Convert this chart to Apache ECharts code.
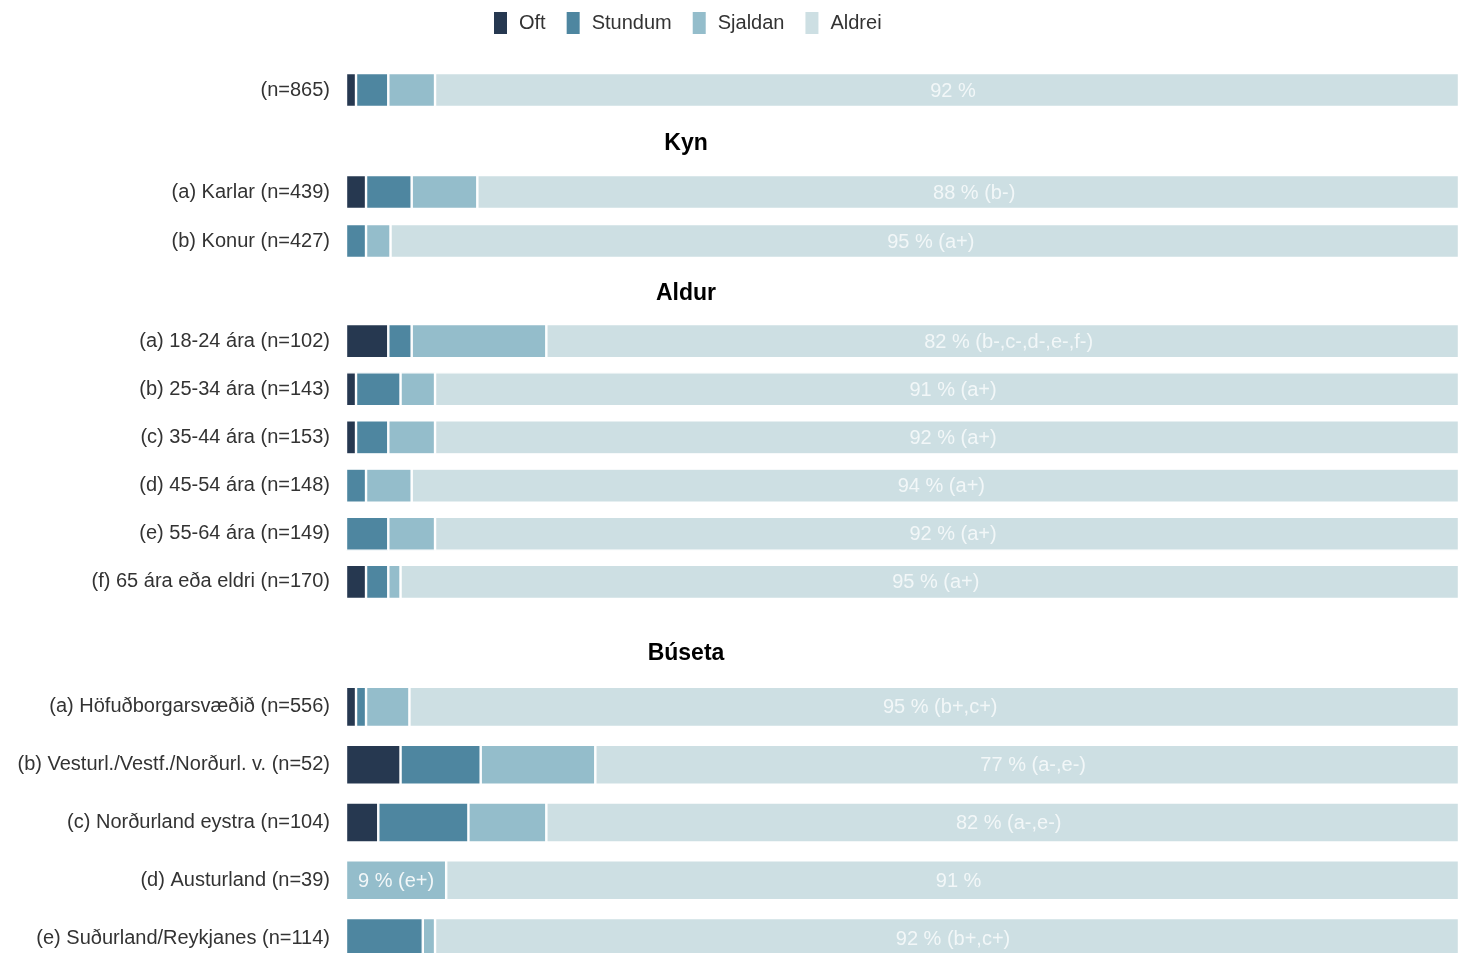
<!DOCTYPE html>
<html>
<head>
<meta charset="utf-8">
<script src="https://cdn.jsdelivr.net/npm/echarts@6/dist/echarts.min.js"></script>
<style>
html,body{margin:0;padding:0;background:#fff;overflow:hidden;}
#chart{width:1459px;height:1000px;}
</style>
</head>
<body>
<div id="chart"></div>
<script>
// ---- data ----
const seriesNames = ['Oft', 'Stundum', 'Sjaldan', 'Aldrei'];
const sectionTitles = ['', 'Kyn', 'Aldur', 'Búseta'];
const sectionCounts = [1, 2, 6, 5];
const categories = [
  '(n=865)',
  '(a) Karlar (n=439)', '(b) Konur (n=427)',
  '(a) 18-24 ára (n=102)', '(b) 25-34 ára (n=143)', '(c) 35-44 ára (n=153)',
  '(d) 45-54 ára (n=148)', '(e) 55-64 ára (n=149)', '(f) 65 ára eða eldri (n=170)',
  '(a) Höfuðborgarsvæðið (n=556)', '(b) Vesturl./Vestf./Norðurl. v. (n=52)',
  '(c) Norðurland eystra (n=104)', '(d) Austurland (n=39)', '(e) Suðurland/Reykjanes (n=114)'
];
const oft     = [0.9, 1.8, 0,   3.8, 0.9, 0.9, 0,   0,   1.8, 0.9, 4.9, 2.9, 0,   0];
const stundum = [2.9, 4.1, 1.8, 2.1, 4.0, 2.9, 1.8, 3.8, 2.0, 0.9, 7.2, 8.1, 0,   6.9];
const sjaldan = [4.2, 5.9, 2.2, 12.1, 3.1, 4.2, 4.1, 4.2, 1.1, 3.9, 10.3, 7.0, 9.0, 1.1];
const aldrei  = [92.0, 88.2, 96.0, 82.0, 92.0, 92.0, 94.1, 92.0, 95.1, 94.3, 77.6, 82.0, 91.0, 92.0];
const sjaldanLabels = ['', '', '', '', '', '', '', '', '', '', '', '', '9 % (e+)', ''];
const aldreiLabels = [
  '92 %', '88 % (b-)', '95 % (a+)',
  '82 % (b-,c-,d-,e-,f-)', '91 % (a+)', '92 % (a+)', '94 % (a+)', '92 % (a+)', '95 % (a+)',
  '95 % (b+,c+)', '77 % (a-,e-)', '82 % (a-,e-)', '91 %', '92 % (b+,c+)'
];

// ---- layout / style ----
const FONT = 'Liberation Sans, Arial, sans-serif';
const colors = ['#263850', '#4e86a0', '#94bdcb', '#cddfe3'];
const gridLayout = [
  {top: 65.5, height: 49, barWidth: 34},
  {top: 167.5, height: 98, barWidth: 34},
  {top: 317, height: 289, barWidth: 34},
  {top: 678, height: 289, barWidth: 40}
];
const headerPos = [null, 144, 294, 654];
const valueArrays = [oft, stundum, sjaldan, aldrei];
const labelArrays = [null, null, sjaldanLabels, aldreiLabels];
const labelOffsets = [[0, 0], [0, 0], [0, 1], [6, 1]];

const grids = [], xAxes = [], yAxes = [], series = [], graphics = [];
let start = 0;
sectionCounts.forEach((cnt, gi) => {
  const lay = gridLayout[gi];
  grids.push({left: 346, right: 0, top: lay.top, height: lay.height});
  xAxes.push({type: 'value', gridIndex: gi, min: 0, max: 100, show: false});
  yAxes.push({
    type: 'category', gridIndex: gi, inverse: true,
    data: categories.slice(start, start + cnt),
    axisLine: {show: false}, axisTick: {show: false},
    axisLabel: {color: '#333', fontSize: 20, margin: 16, fontFamily: FONT}
  });
  seriesNames.forEach((name, si) => {
    const vals = valueArrays[si].slice(start, start + cnt);
    const labs = labelArrays[si] ? labelArrays[si].slice(start, start + cnt) : null;
    series.push({
      name: name, type: 'bar', stack: 'g' + gi,
      xAxisIndex: gi, yAxisIndex: gi,
      barWidth: lay.barWidth,
      itemStyle: {color: colors[si], borderColor: '#fff', borderWidth: 1.2},
      label: {
        show: !!labs, position: 'inside', color: '#f2f7f8', fontSize: 20,
        fontFamily: FONT, offset: labelOffsets[si],
        formatter: p => labs ? labs[p.dataIndex] : ''
      },
      emphasis: {disabled: true},
      data: vals
    });
  });
  if (sectionTitles[gi]) {
    graphics.push({
      type: 'text', x: 686, y: headerPos[gi],
      style: {
        text: sectionTitles[gi], fill: '#000', fontSize: 23, fontWeight: 'bold',
        fontFamily: FONT, textAlign: 'center', textVerticalAlign: 'middle'
      }
    });
  }
  start += cnt;
});

const chart = echarts.init(document.getElementById('chart'), null, {renderer: 'canvas'});
chart.setOption({
  animation: false,
  legend: {
    data: seriesNames, left: 487, top: 5,
    icon: 'rect', itemWidth: 15, itemHeight: 24, itemGap: 19,
    textStyle: {color: '#333', fontSize: 20, fontFamily: FONT, padding: [0, 0, 0, 6]}
  },
  grid: grids, xAxis: xAxes, yAxis: yAxes, series: series,
  graphic: graphics
});
</script>
</body>
</html>
